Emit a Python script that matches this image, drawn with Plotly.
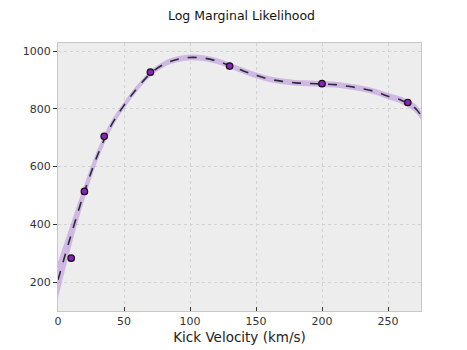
import plotly.graph_objects as go

# observed samples
obs_x = [10, 20, 35, 70, 130, 200, 265]
obs_y = [283, 514, 705, 927, 948, 887, 822]

# GP mean
grid_x = [0, 10, 20, 30, 40, 50, 60, 70, 80, 90, 100, 110, 120, 130, 140, 150, 160,
          170, 180, 190, 200, 210, 220, 230, 240, 250, 260, 270, 275]
mean_y = [208, 365, 512, 640, 740, 812, 872, 922, 954, 971, 978, 976, 966, 950, 932,
          916, 903, 895, 890, 888, 886, 884, 878, 870, 860, 844, 830, 805, 777]
band_w = [62, 40, 26, 19, 15, 12, 11, 10, 10, 10, 10, 10, 10, 10, 10,
          10, 10, 10, 10, 10, 10, 10, 10, 10, 10, 11, 12, 14, 15]

upper = [m + w for m, w in zip(mean_y, band_w)]
lower = [m - w for m, w in zip(mean_y, band_w)]

fig = go.Figure()
fig.add_trace(go.Scatter(x=grid_x, y=upper, mode="lines", line=dict(width=0, shape="spline"),
                         hoverinfo="skip", showlegend=False))
fig.add_trace(go.Scatter(x=grid_x, y=lower, mode="lines", line=dict(width=0, shape="spline"),
                         fill="tonexty", fillcolor="rgba(170,120,210,0.45)",
                         hoverinfo="skip", showlegend=False))
fig.add_trace(go.Scatter(x=grid_x, y=mean_y, mode="lines",
                         line=dict(color="#2a2a3a", width=1.6, dash="dash", shape="spline"),
                         showlegend=False))
fig.add_trace(go.Scatter(x=obs_x, y=obs_y, mode="markers",
                         marker=dict(size=6.5, color="#8e1fbf", line=dict(color="#111", width=1.2)),
                         showlegend=False))

axis_common = dict(showgrid=True, gridcolor="#d2d2d2", griddash="dot", gridwidth=1,
                   showline=True, linecolor="#c8c8c8", linewidth=1, mirror=True,
                   zeroline=False, tickfont=dict(size=11, color="#333"),
                   tickcolor="#333", ticklen=4)

fig.update_layout(
    width=467, height=350,
    margin=dict(l=50, r=54, t=35, b=47),
    paper_bgcolor="white", plot_bgcolor="#ededed",
    font=dict(family="DejaVu Sans", color="#222"),
    title=dict(text="Log Marginal Likelihood", x=0.5, xanchor="center", y=0.977, yanchor="middle",
               font=dict(size=12.5, color="#111")),
    xaxis=dict(range=[0, 275], tickvals=[0, 50, 100, 150, 200, 250], ticks="inside",
               title=dict(text="Kick Velocity (km/s)", font=dict(size=13.5, color="#222"), standoff=5),
               **axis_common),
    yaxis=dict(range=[100, 1028], tickvals=[200, 400, 600, 800, 1000], ticks="outside",
               **axis_common),
)

fig.write_html("out.html")
